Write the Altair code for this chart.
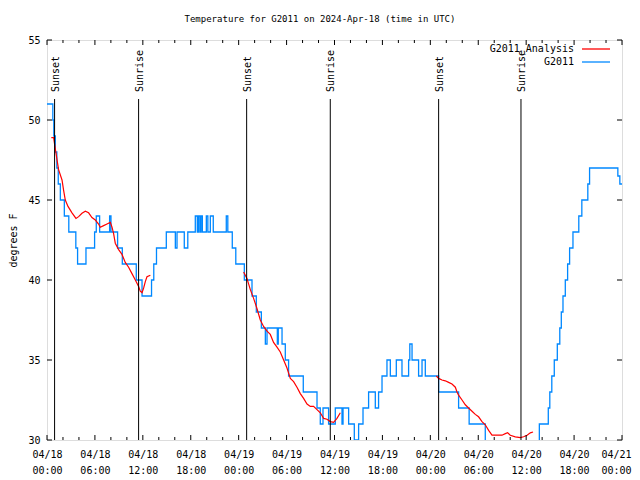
import altair as alt
import pandas as pd

FONT = "DejaVu Sans Mono"

# G2011 observations: change points (hours since 2024-04-18 00:00 UTC) and temperature (deg F)
obs_hours = [0.0, 0.73, 0.85, 1.04, 1.23, 1.41, 1.67, 2.17, 2.73, 3.61, 3.83, 4.88, 5.96, 6.17, 6.59,
             7.84, 8.01, 8.84, 9.43, 11.18, 11.90, 13.09, 13.37, 13.71, 14.94, 16.07, 16.28, 17.19,
             17.63, 18.57, 18.82, 18.98, 19.16, 19.28, 19.45, 19.95, 20.14, 20.45, 20.82, 22.45,
             22.64, 23.20, 23.64, 24.71, 25.67, 26.21, 26.84, 27.34, 27.55, 28.84, 28.96, 29.43,
             29.84, 30.25, 32.09, 33.81, 34.22, 34.56, 35.26, 36.10, 36.94, 37.07, 37.77, 38.48,
             39.02, 39.57, 40.27, 41.11, 41.52, 41.95, 42.57, 42.99, 43.74, 44.45, 45.28, 45.43,
             45.71, 46.53, 46.96, 47.37, 49.04, 51.54, 52.86, 54.88, 61.65, 62.77, 62.96, 63.21,
             63.52, 63.90, 64.21, 64.40, 64.61, 64.90, 65.19, 65.44, 65.86, 66.59, 66.97, 67.72,
             67.94, 71.48, 71.73, 72.0]
obs_temps = [51, 50, 49, 48, 47, 46, 45, 44, 43, 42, 41, 42, 43, 44, 43,
             44, 43, 42, 41, 40, 39, 40, 41, 42, 43, 42, 43, 42,
             43, 44, 43, 44, 43, 44, 43, 44, 43, 44, 43, 44,
             43, 42, 41, 40, 39, 38, 37, 36, 37, 36, 37, 36,
             35, 34, 33, 32, 31, 32, 31, 32, 31, 32, 31, 30,
             31, 32, 33, 32, 33, 34, 35, 34, 35, 34, 35, 36,
             35, 34, 35, 34, 33, 32, 31, 29, 31, 32, 33, 34,
             35, 36, 37, 38, 39, 40, 41, 42, 43, 44, 45, 46,
             47, 46.5, 46, 46]

# G2011_Analysis: three segments
ana1_hours = [0.54, 0.83, 1.04, 1.45, 1.88, 2.08, 2.29, 2.63, 3.13, 3.63, 3.96, 4.38, 4.80, 5.21,
              5.63, 6.05, 6.46, 6.67, 7.09, 7.51, 7.93, 8.14, 8.34, 8.55, 8.97, 9.39, 9.80, 10.22,
              10.64, 11.06, 11.47, 11.68, 11.90, 12.10, 12.31, 12.52, 12.94]
ana1_temps = [48.9, 48.9, 48.2, 46.9, 46.25, 45.6, 45.0, 44.6, 44.2, 43.85, 43.96, 44.17, 44.3, 44.2,
              43.9, 43.75, 43.5, 43.3, 43.4, 43.5, 43.6, 43.3, 42.9, 42.3, 41.9, 41.6, 41.1, 40.8,
              40.4, 40.0, 39.6, 39.3, 39.2, 39.5, 39.9, 40.2, 40.3]
ana2_hours = [24.62, 25.04, 25.46, 25.87, 26.30, 26.71, 27.12, 27.55, 27.96, 28.37, 28.80, 29.21,
              29.63, 30.05, 30.47, 30.88, 31.30, 31.72, 32.13, 32.56, 32.97, 33.38, 33.81, 34.22,
              34.64, 35.06, 35.47, 35.89, 36.31, 36.73]
ana2_temps = [40.5, 40.1, 39.4, 38.85, 38.2, 37.5, 37.1, 36.8, 36.6, 36.1, 35.8, 35.5,
              35.0, 34.5, 33.85, 33.65, 33.3, 32.9, 32.6, 32.25, 32.1, 32.1, 31.9, 31.7,
              31.35, 31.3, 31.15, 31.1, 31.35, 31.7]
ana3_hours = [48.75, 49.04, 49.46, 49.87, 50.29, 50.71, 51.13, 51.34, 51.54, 51.97, 52.38, 52.79,
              53.22, 53.63, 54.04, 54.47, 54.88, 55.30, 55.72, 56.97, 57.39, 57.68, 58.01, 58.64,
              59.27, 59.68, 60.11, 60.52, 60.86]
ana3_temps = [34.0, 33.85, 33.75, 33.7, 33.6, 33.5, 33.3, 33.0, 32.8, 32.5, 32.2, 32.0,
              31.8, 31.6, 31.45, 31.15, 30.95, 30.6, 30.3, 30.3, 30.4, 30.45, 30.3, 30.2,
              30.15, 30.2, 30.3, 30.45, 30.5]

sun_hours = [0.95, 11.47, 25.0, 35.47, 49.04, 59.35]
sun_labels = ["Sunset", "Sunrise", "Sunset", "Sunrise", "Sunset", "Sunrise"]

x_major = list(range(0, 73, 6))
x_minor = [h for h in range(0, 73, 2) if h % 6 != 0]
y_major = [30, 35, 40, 45, 50, 55]

title_text = "Temperature for G2011 on 2024-Apr-18 (time in UTC)"
legend_names = ["G2011_Analysis", "G2011"]
legend_colors = ["#ff0000", "#0088ff"]
legend_rows = [0, 1]

W, H = 575, 400

obs = pd.DataFrame({"h": obs_hours, "t": obs_temps})
ana = pd.DataFrame({
    "h": ana1_hours + ana2_hours + ana3_hours,
    "t": ana1_temps + ana2_temps + ana3_temps,
    "seg": [1] * len(ana1_hours) + [2] * len(ana2_hours) + [3] * len(ana3_hours),
})
sun = pd.DataFrame({"h": sun_hours, "label": sun_labels})

xscale = alt.Scale(domain=[0, 72], nice=False, zero=False)
yscale = alt.Scale(domain=[30, 55], nice=False, zero=False)

x_axis = alt.Axis(
    values=x_major, ticks=False, domain=False, grid=False, title=None,
    labelExpr="['04/' + (18 + floor(datum.value / 24)), format(datum.value % 24, '02d') + ':00']",
    labelFont=FONT, labelFontSize=10, labelColor="black", labelPadding=9,
    labelBaseline="top", labelLineHeight=16, labelFlush=False, labelOverlap=False,
    labelOffset=alt.condition("datum.value == 72", alt.value(-6), alt.value(0)),
)
y_axis = alt.Axis(
    values=y_major, ticks=False, domain=False, grid=False,
    title="degrees F", titleFont=FONT, titleFontSize=10, titleFontWeight="normal",
    titleColor="black", titleAngle=270, titleX=-34, titleY=200,
    titleAlign="center", titleBaseline="middle",
    labelFont=FONT, labelFontSize=10, labelColor="black", labelPadding=7,
)

blue = alt.Chart(obs).mark_line(
    interpolate="step-after", color=legend_colors[1], strokeWidth=1.3, clip=True
).encode(
    x=alt.X("h:Q", scale=xscale, axis=x_axis),
    y=alt.Y("t:Q", scale=yscale, axis=y_axis),
)

red = alt.Chart(ana).mark_line(color=legend_colors[0], strokeWidth=1.2, clip=True).encode(
    x=alt.X("h:Q", scale=xscale),
    y=alt.Y("t:Q", scale=yscale),
    detail="seg:N",
)

sun_rules = alt.Chart(sun).mark_rule(color="black", strokeWidth=1).encode(
    x=alt.X("h:Q", scale=xscale), y=alt.value(59), y2=alt.value(H)
)
sun_text = alt.Chart(sun).mark_text(
    angle=270, align="left", baseline="middle", font=FONT, fontSize=10, color="black", dy=1
).encode(x=alt.X("h:Q", scale=xscale), y=alt.value(52), text="label:N")

maj = pd.DataFrame({"h": x_major})
mnr = pd.DataFrame({"h": x_minor})
ymaj = pd.DataFrame({"t": y_major})


def xticks(df, length):
    bottom = alt.Chart(df).mark_rule(color="black").encode(
        x=alt.X("h:Q", scale=xscale), y=alt.value(H), y2=alt.value(H - length))
    top = alt.Chart(df).mark_rule(color="black").encode(
        x=alt.X("h:Q", scale=xscale), y=alt.value(0), y2=alt.value(length))
    return [bottom, top]


yt_left = alt.Chart(ymaj).mark_rule(color="black").encode(
    y=alt.Y("t:Q", scale=yscale), x=alt.value(0), x2=alt.value(5))
yt_right = alt.Chart(ymaj).mark_rule(color="black").encode(
    y=alt.Y("t:Q", scale=yscale), x=alt.value(W), x2=alt.value(W - 5))

title = alt.Chart(pd.DataFrame({"t": [title_text]})).mark_text(
    font=FONT, fontSize=9, color="black", align="center", baseline="middle"
).encode(x=alt.value(273), y=alt.value(-21), text="t:N")

leg = pd.DataFrame({"name": legend_names, "color": legend_colors, "row": legend_rows})
leg_y = alt.Y("row:Q", scale=alt.Scale(domain=[0, 1], range=[9, 22]), axis=None)
leg_text = alt.Chart(leg).mark_text(
    font=FONT, fontSize=10, color="black", align="right", baseline="middle"
).encode(x=alt.value(527), y=leg_y, text="name:N")
leg_lines = alt.Chart(leg).mark_rule(strokeWidth=1.3).encode(
    x=alt.value(535), x2=alt.value(563), y=leg_y,
    color=alt.Color("color:N", scale=None),
)

layers = [blue, red, sun_rules, sun_text] + xticks(maj, 5) + xticks(mnr, 3) + \
    [yt_left, yt_right, title]

main = alt.layer(*layers)
legend_layer = alt.layer(leg_text, leg_lines)

chart = alt.layer(main, legend_layer).resolve_scale(y="independent").properties(
    width=W, height=H, autosize="none",
    padding={"left": 39, "top": 32, "right": 10, "bottom": 40},
).configure_view(stroke="black", strokeWidth=1).configure(background="white")

chart.save("out.html", embed_options={"renderer": "svg", "actions": False})
